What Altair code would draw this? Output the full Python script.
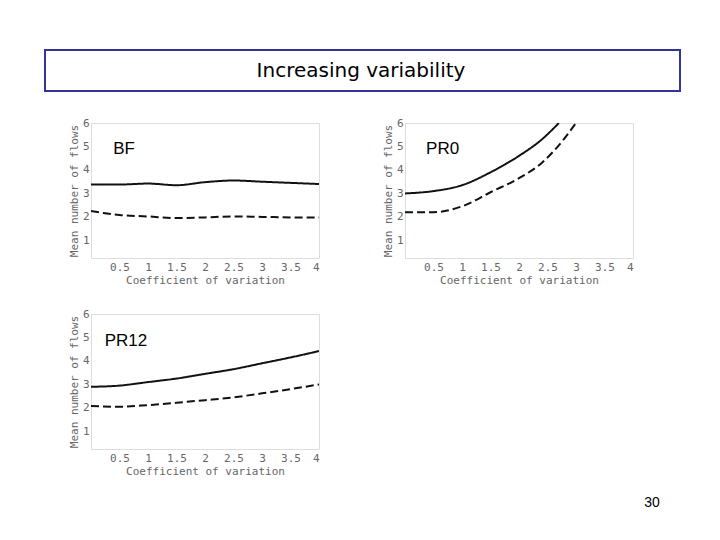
import altair as alt
import pandas as pd

# ---- data ----
cv_full = [0, 0.5, 1, 1.5, 2, 2.5, 3, 3.5, 4]
bf_solid = [3.38, 3.38, 3.42, 3.35, 3.48, 3.55, 3.5, 3.45, 3.4]
bf_dashed = [2.25, 2.08, 2.02, 1.95, 1.98, 2.02, 2.0, 1.98, 1.97]
pr12_solid = [2.9, 2.95, 3.1, 3.25, 3.45, 3.65, 3.9, 4.15, 4.42]
pr12_dashed = [2.08, 2.05, 2.12, 2.22, 2.33, 2.45, 2.62, 2.8, 3.0]
pr0_solid_cv = [0, 0.5, 1, 1.5, 2, 2.4, 2.7]
pr0_solid = [3.0, 3.1, 3.35, 3.9, 4.6, 5.3, 6.0]
pr0_dashed_cv = [0, 0.5, 1, 1.5, 2, 2.4, 2.75, 3.0]
pr0_dashed = [2.2, 2.2, 2.45, 3.05, 3.65, 4.3, 5.2, 6.0]

x_ticks = [0.5, 1, 1.5, 2, 2.5, 3, 3.5, 4]
y_ticks = [1, 2, 3, 4, 5, 6]
series_names = ["solid", "dashed"]

slide_title = "Increasing variability"
page_number = "30"
x_title = "Coefficient of variation"
y_title = "Mean number of flows"

W, H = 228, 135
AXIS_FONT = "DejaVu Sans Mono"


def frame(cv_s, y_s, cv_d, y_d):
    rows = [{"cv": c, "flows": v, "series": "solid"} for c, v in zip(cv_s, y_s)]
    rows += [{"cv": c, "flows": v, "series": "dashed"} for c, v in zip(cv_d, y_d)]
    return pd.DataFrame(rows)


X = alt.X("cv:Q",
          scale=alt.Scale(domain=[0, 4], nice=False, zero=False),
          axis=alt.Axis(values=x_ticks, title=x_title, grid=False, domain=False, ticks=False,
                        labelPadding=3, titlePadding=2, labelFont=AXIS_FONT, titleFont=AXIS_FONT,
                        labelFontSize=11, titleFontSize=11, titleFontWeight="normal",
                        labelColor="#666666", titleColor="#666666", format="~g"))
Y = alt.Y("flows:Q",
          scale=alt.Scale(domain=[0.25, 6], nice=False, zero=False),
          axis=alt.Axis(values=y_ticks, title=y_title, grid=False, domain=False, ticks=False,
                        labelPadding=2, titlePadding=3, labelFont=AXIS_FONT, titleFont=AXIS_FONT,
                        labelFontSize=11, titleFontSize=11, titleFontWeight="normal",
                        labelColor="#666666", titleColor="#666666"))


def panel(df, label, lx, ly, extras=()):
    lines = alt.Chart(df).mark_line(clip=True, interpolate="monotone", strokeWidth=2,
                                    color="#111111").encode(
        x=X, y=Y,
        strokeDash=alt.StrokeDash("series:N",
                                  scale=alt.Scale(domain=series_names, range=[[1, 0], [8, 4]]),
                                  legend=None),
        detail="series:N")
    lab = alt.Chart(pd.DataFrame({"cv": [lx], "flows": [ly], "t": [label]})).mark_text(
        align="left", baseline="middle", font="Liberation Sans", fontSize=17, color="#000000"
    ).encode(x=X, y=Y, text="t:N")
    return alt.layer(lines, lab, *extras).properties(width=W, height=H)


one = pd.DataFrame({"k": [0]})
title_box = alt.Chart(one).mark_rect(stroke="#333399", strokeWidth=2, fill="#ffffff",
                                     fillOpacity=0).encode(
    x=alt.value(-46), x2=alt.value(589), y=alt.value(-73), y2=alt.value(-32))
title_text = alt.Chart(one).mark_text(font="DejaVu Sans", fontSize=20, align="center",
                                      baseline="middle", color="#000000").encode(
    x=alt.value(270), y=alt.value(-52), text=alt.value(slide_title))
page_text = alt.Chart(one).mark_text(font="Liberation Sans", fontSize=14, align="center",
                                     baseline="middle", color="#000000").encode(
    x=alt.value(561), y=alt.value(189), text=alt.value(page_number))

bf = panel(frame(cv_full, bf_solid, cv_full, bf_dashed), "BF", 0.39, 4.9,
           extras=(title_box, title_text))
pr0 = panel(frame(pr0_solid_cv, pr0_solid, pr0_dashed_cv, pr0_dashed), "PR0", 0.37, 4.9)
pr12 = panel(frame(cv_full, pr12_solid, cv_full, pr12_dashed), "PR12", 0.24, 4.85,
             extras=(page_text,))

chart = alt.concat(bf, pr0, pr12, columns=2, spacing=alt.RowColnumber(row=56, column=86),
                   bounds="flush").properties(
    padding={"left": 35, "top": 40, "right": 5, "bottom": 5}
).configure_view(
    stroke="#b0b0b0", strokeDash=[1, 3], strokeWidth=1
).configure(background="#ffffff")

chart.save("out.html", embed_options={"renderer": "svg", "actions": False})
